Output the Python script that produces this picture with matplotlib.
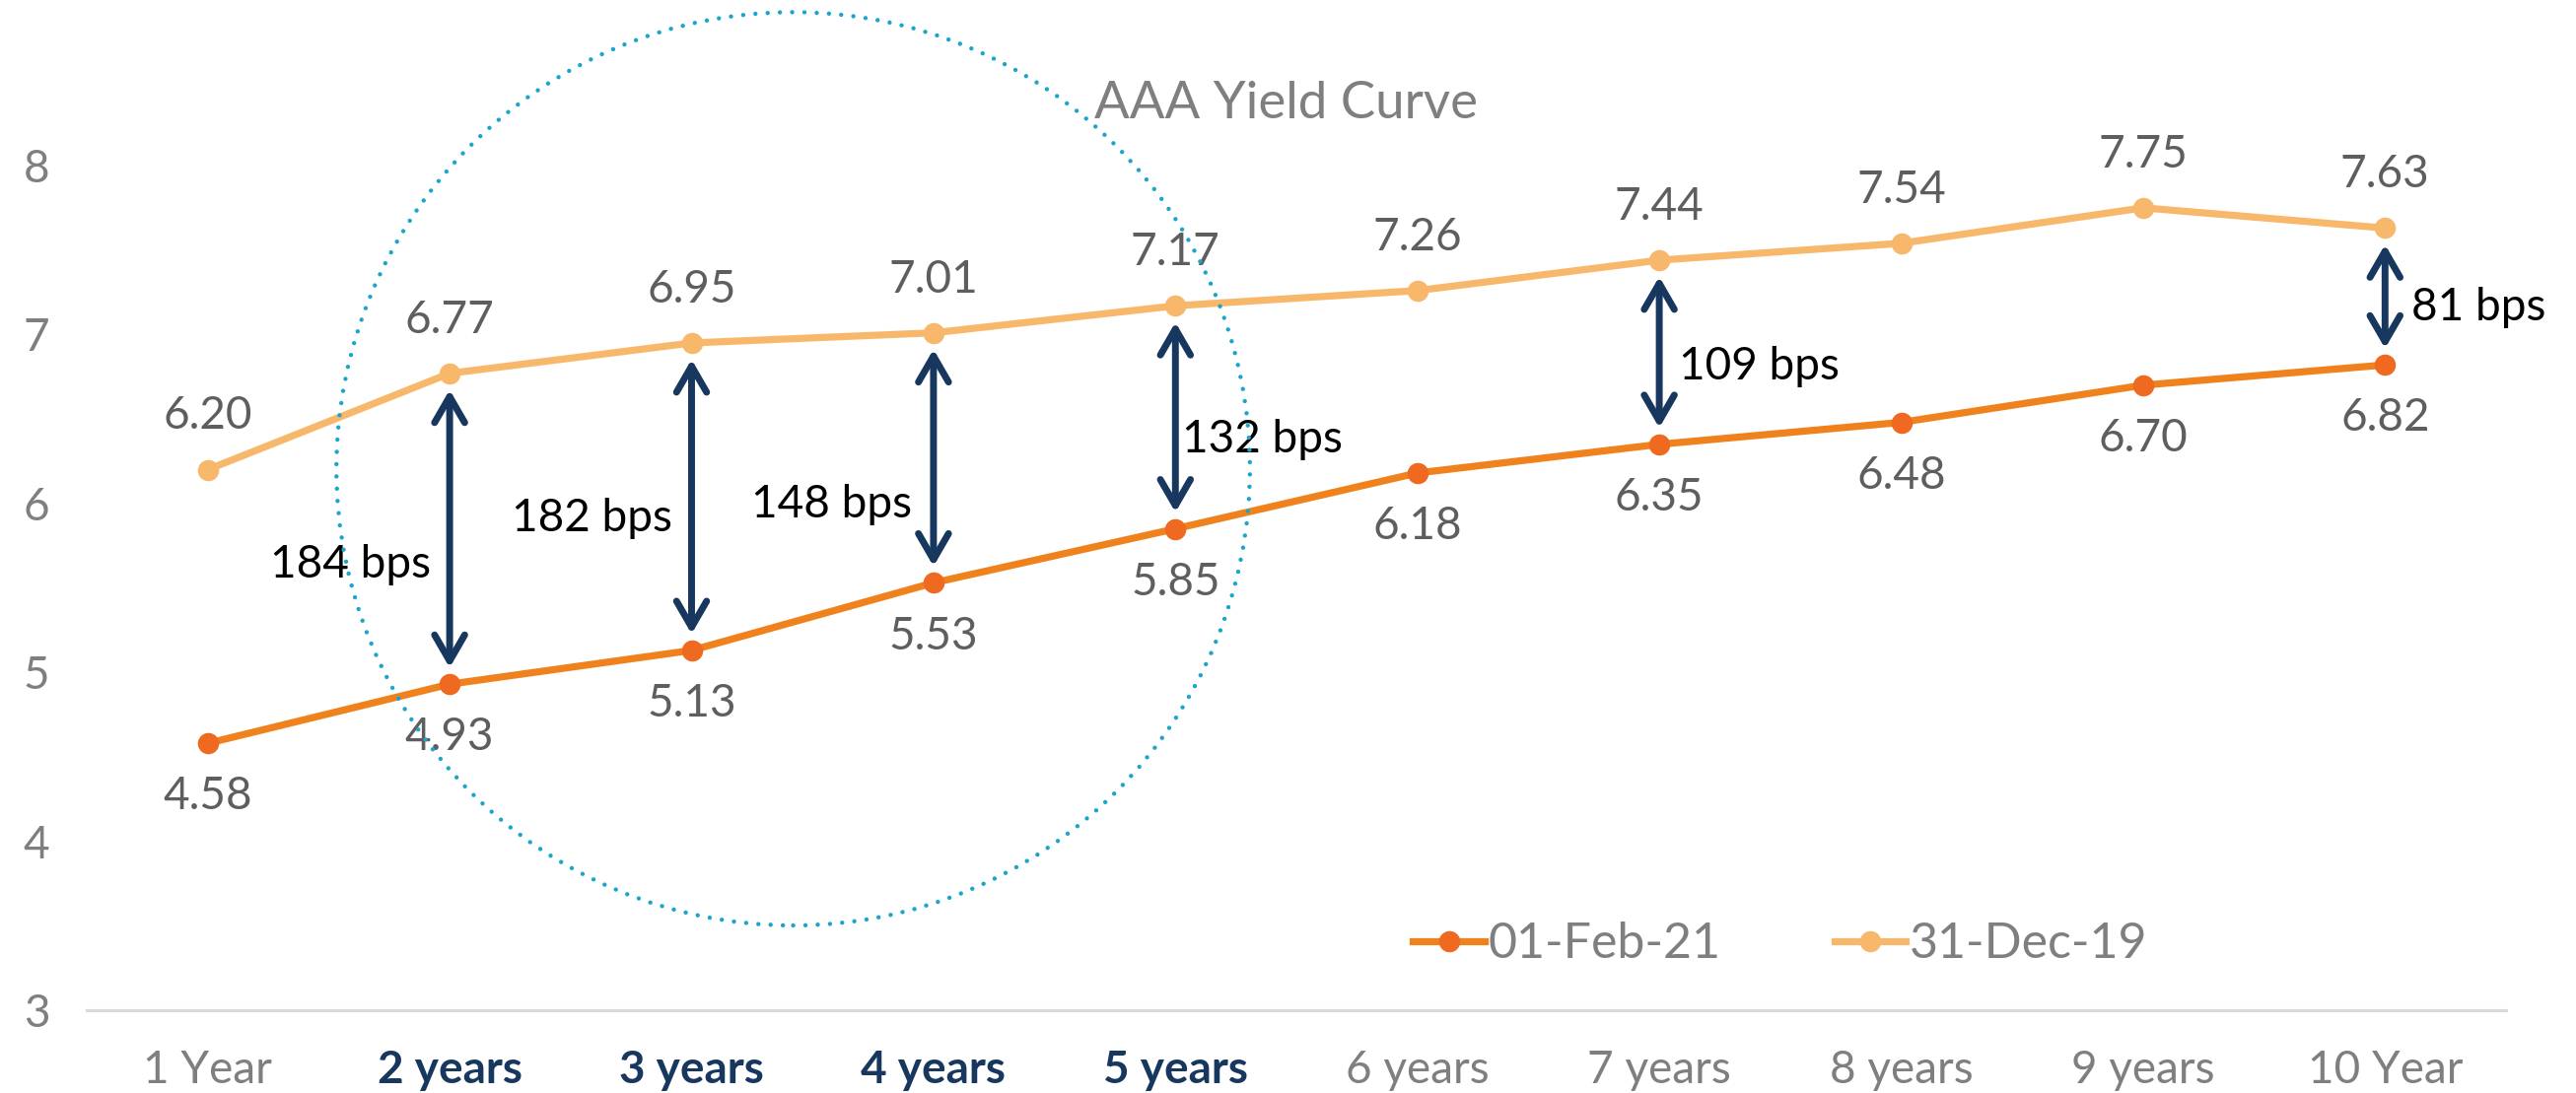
import matplotlib.pyplot as plt
from matplotlib.patches import Ellipse

plt.rcParams['font.family'] = ['Lato', 'DejaVu Sans']

tenors = ['1 Year', '2 years', '3 years', '4 years', '5 years',
          '6 years', '7 years', '8 years', '9 years', '10 Year']
feb21 = [4.58, 4.93, 5.13, 5.53, 5.85, 6.18, 6.35, 6.48, 6.70, 6.82]
dec19 = [6.20, 6.77, 6.95, 7.01, 7.17, 7.26, 7.44, 7.54, 7.75, 7.63]
highlight = ['2 years', '3 years', '4 years', '5 years']

# tenors that get a spread arrow, and where their bps label sits
spread_idx = [1, 2, 3, 4, 6, 9]
spread_label_y = [5.64, 5.91, 5.995, 6.38, 6.81, 7.16]
spread_dx = [-14, -14, -16, 5, 14, 19]   # points, negative = left of arrow

C_NEW = '#F0821E'
C_NEW_MK = '#EF6A20'
C_OLD = '#F8B86C'
NAVY = '#17375E'
GREY = '#7F7F7F'
LBL = '#5E5E5E'

W, H = 2613, 1109
fig = plt.figure(figsize=(W / 100, H / 100), dpi=100)
ax = fig.add_axes([88 / W, 84 / H, (2542 - 88) / W, (1025 - 168) / H])

x = list(range(len(tenors)))
ax.plot(x, feb21, color=C_NEW, lw=5.2, marker='o', ms=14.5,
        mfc=C_NEW_MK, mec=C_NEW_MK, label='01-Feb-21', zorder=3)
ax.plot(x, dec19, color=C_OLD, lw=5.2, marker='o', ms=14.5,
        mfc=C_OLD, mec=C_OLD, label='31-Dec-19', zorder=3)

# value labels: 2019 above, 2021 below
for i in x:
    ax.annotate(f'{dec19[i]:.2f}', (i, dec19[i]), xytext=(0, 39),
                textcoords='offset points', ha='center', va='center',
                fontsize=33, color=LBL)
    ax.annotate(f'{feb21[i]:.2f}', (i, feb21[i]), xytext=(0, -39),
                textcoords='offset points', ha='center', va='center',
                fontsize=33, color=LBL)

# spread arrows between the two curves
for i, ly, dx in zip(spread_idx, spread_label_y, spread_dx):
    lo, hi = feb21[i], dec19[i]
    ax.annotate('', xy=(i, lo), xytext=(i, hi),
                arrowprops=dict(arrowstyle='<->,head_length=0.95,head_width=0.55',
                                mutation_scale=20, color=NAVY, lw=5,
                                shrinkA=12, shrinkB=12), zorder=4)
    bps = round((hi - lo) * 100)
    ax.annotate(f'{bps} bps', (i, ly), xytext=(dx, 0), textcoords='offset points',
                ha='right' if dx < 0 else 'left', va='center',
                fontsize=33, color='black', zorder=5)

# dotted ring around the 2-5 year bucket
ring = Ellipse((2.42, 6.205), width=2 * 1.888, height=2 * 2.703, fill=False,
               edgecolor='#1AA6C9', lw=3.2, linestyle=(0, (0.001, 2.8)),
               capstyle='round', clip_on=False, zorder=6)
ax.add_patch(ring)

ax.set_xlim(-0.5, 9.5)
ax.set_ylim(3, 8)
ax.set_yticks([3, 4, 5, 6, 7, 8])
ax.set_xticks(x)
ax.set_xticklabels(tenors)
ax.tick_params(axis='both', length=0, labelsize=33, labelcolor=GREY)
ax.tick_params(axis='y', pad=27)
ax.tick_params(axis='x', pad=29)
for lab in ax.get_xticklabels():
    if lab.get_text() in highlight:
        lab.set_color(NAVY)
        lab.set_fontweight('bold')

for s in ['top', 'right', 'left']:
    ax.spines[s].set_visible(False)
ax.spines['bottom'].set_color('#D9D9D9')
ax.spines['bottom'].set_linewidth(2.2)

fig.text(1304 / W, 1 - 120 / H, 'AAA Yield Curve', ha='center', va='baseline',
         fontsize=38, color=GREY)

ax.legend(loc='center', bbox_to_anchor=(1806 / W, 1 - 958 / H),
          bbox_transform=fig.transFigure, ncol=2, frameon=False,
          fontsize=36, labelcolor=GREY, handlelength=1.45,
          handletextpad=0.08, columnspacing=2.3)

fig.savefig('out.png', dpi=100)
